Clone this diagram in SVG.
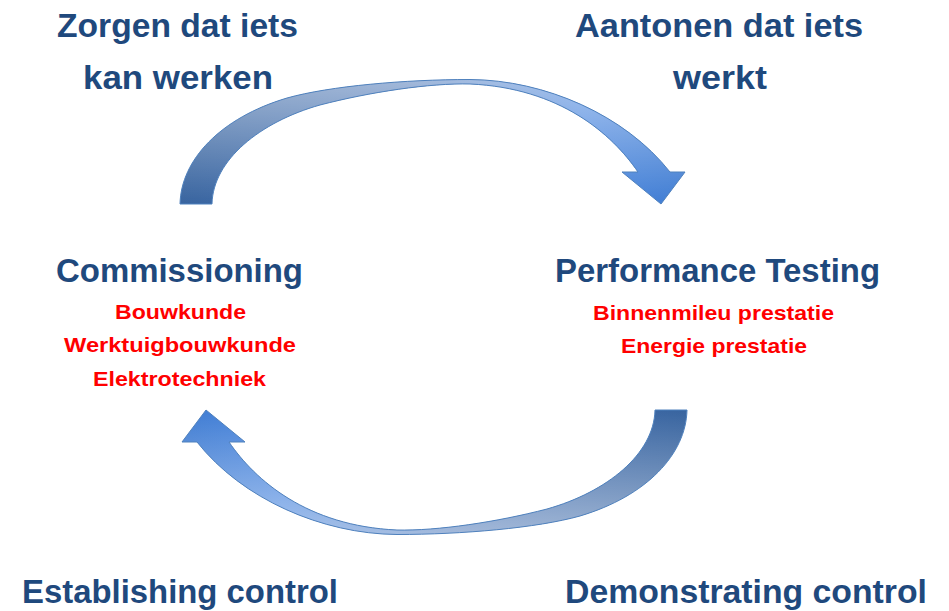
<svg xmlns="http://www.w3.org/2000/svg" width="949" height="611" viewBox="0 0 949 611">
<defs>
<style>
.t{font-family:"Liberation Sans",Arial,sans-serif;font-weight:bold;font-size:33px;fill:#1F497D;text-anchor:middle}
.r{font-family:"Liberation Sans",Arial,sans-serif;font-weight:bold;font-size:21px;fill:#FF0000;text-anchor:middle}
.base{fill:url(#gH)}
.shade{fill:url(#gV);stroke:#4F81BD;stroke-width:1}
</style>
<linearGradient id="gH" gradientUnits="userSpaceOnUse" x1="180" y1="0" x2="685" y2="0">
<stop offset="0" stop-color="#38649F"/>
<stop offset="0.45" stop-color="#4672B4"/>
<stop offset="0.8" stop-color="#4A86DE"/>
<stop offset="1" stop-color="#3F7CD2"/>
</linearGradient>
<linearGradient id="gV" gradientUnits="userSpaceOnUse" x1="0" y1="80" x2="0" y2="204">
<stop offset="0" stop-color="#FFFFFF" stop-opacity="0.5"/>
<stop offset="1" stop-color="#FFFFFF" stop-opacity="0"/>
</linearGradient>
<path id="arrow" d="M180,204 C181,160 220,118 287,98 C330,86 405,79.5 470,79.5 C545,80 625,115 670,172 L685,172 L661,204 L622,172 L638,172 C612,134 560,88 470,84 C430,83 370,92 320,105 C260,122 213,160 212,204 Z"/>
</defs>
<g id="connectors">
<g id="arrow-top">
<use href="#arrow" class="base"/>
<use href="#arrow" class="shade"/>
</g>
<g id="arrow-bottom" transform="rotate(180 433.5 307)">
<use href="#arrow" class="base"/>
<use href="#arrow" class="shade"/>
</g>
</g>
<g id="label-top-left">
<text class="t" x="177.5" y="37" textLength="241" lengthAdjust="spacingAndGlyphs">Zorgen dat iets</text>
<text class="t" x="178" y="89" textLength="190" lengthAdjust="spacingAndGlyphs">kan werken</text>
</g>
<g id="label-top-right">
<text class="t" x="719" y="37" textLength="288" lengthAdjust="spacingAndGlyphs">Aantonen dat iets</text>
<text class="t" x="720" y="89" textLength="94" lengthAdjust="spacingAndGlyphs">werkt</text>
</g>
<g id="node-commissioning">
<text class="t" x="179.5" y="282" textLength="247" lengthAdjust="spacingAndGlyphs">Commissioning</text>
<text class="r" x="180.5" y="319" textLength="131" lengthAdjust="spacingAndGlyphs">Bouwkunde</text>
<text class="r" x="180" y="352" textLength="232" lengthAdjust="spacingAndGlyphs">Werktuigbouwkunde</text>
<text class="r" x="179.5" y="386" textLength="173" lengthAdjust="spacingAndGlyphs">Elektrotechniek</text>
</g>
<g id="node-performance">
<text class="t" x="717.5" y="282" textLength="325" lengthAdjust="spacingAndGlyphs">Performance Testing</text>
<text class="r" x="713.5" y="320" textLength="241" lengthAdjust="spacingAndGlyphs">Binnenmileu prestatie</text>
<text class="r" x="714" y="353" textLength="186" lengthAdjust="spacingAndGlyphs">Energie prestatie</text>
</g>
<g id="label-bottom-left">
<text class="t" x="180" y="603" textLength="316" lengthAdjust="spacingAndGlyphs">Establishing control</text>
</g>
<g id="label-bottom-right">
<text class="t" x="746" y="603" textLength="362" lengthAdjust="spacingAndGlyphs">Demonstrating control</text>
</g>
</svg>
